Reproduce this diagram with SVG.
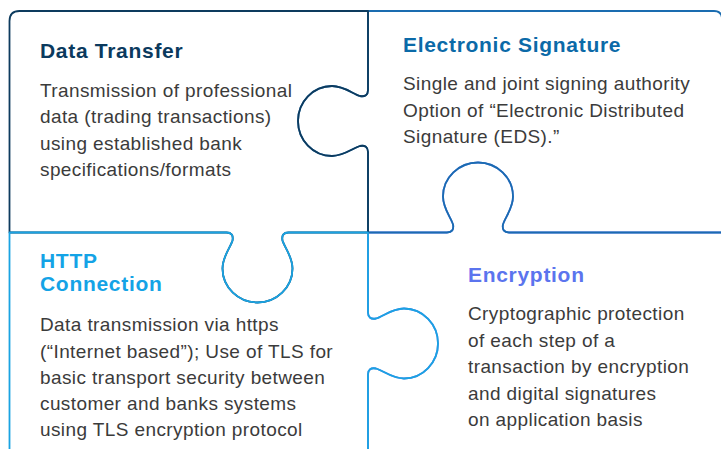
<svg xmlns="http://www.w3.org/2000/svg" width="721" height="449" viewBox="0 0 721 449">
  <style>
    .piece { fill: none; stroke-width: 1.8; stroke-linejoin: round; }
    .title { font-family: "Liberation Sans", Arial, sans-serif; font-weight: bold; font-size: 21px; letter-spacing: 0.7px; }
    .body { font-family: "Liberation Sans", Arial, sans-serif; font-size: 19px; letter-spacing: 0.4px; fill: #3b3b3b; }
  </style>
  <rect width="721" height="449" fill="#ffffff"/>

  <!-- Puzzle pieces are drawn bottom-up so the shared edges take the colour of the piece on top -->
  <g id="encryption">
    <path class="piece" stroke="#5b74ee" d="M 368 232.5 H 447 C 452 232.5, 454 229.5, 453 224.5 C 451 217.5, 443 208.5, 443 196.5 C 443 177.5, 459 162.5, 478 162.5 C 497 162.5, 513 177.5, 513 196.5 C 513 208.5, 505 217.5, 503 224.5 C 502 229.5, 504 232.5, 509 232.5 H 722 V 460 H 368 V 374.5 C 368 369.5, 371 367.5, 376 368.5 C 383 370.5, 392 378.5, 404 378.5 C 423 378.5, 438 362.5, 438 343.5 C 438 324.5, 423 308.5, 404 308.5 C 392 308.5, 383 316.5, 376 318.5 C 371 319.5, 368 317.5, 368 312.5 V 232.5 Z"/>
    <text class="title" x="468" y="282" fill="#5b74ee">Encryption</text>
    <text class="body" x="468">
      <tspan x="468" y="320">Cryptographic protection</tspan>
      <tspan x="468" y="346.5">of each step of a</tspan>
      <tspan x="468" y="373">transaction by encryption</tspan>
      <tspan x="468" y="399.5">and digital signatures</tspan>
      <tspan x="468" y="426">on application basis</tspan>
    </text>
  </g>

  <g id="electronic-signature">
    <path class="piece" stroke="#1a6cb0" d="M 368 11 H 714 Q 722 11 722 19 V 232.5 H 509 C 504 232.5, 502 229.5, 503 224.5 C 505 217.5, 513 208.5, 513 196.5 C 513 177.5, 497 162.5, 478 162.5 C 459 162.5, 443 177.5, 443 196.5 C 443 208.5, 451 217.5, 453 224.5 C 454 229.5, 452 232.5, 447 232.5 H 368 V 152 C 368 147, 365 145, 360 146 C 353 148, 344 156, 332 156 C 313 156, 298 140, 298 121 C 298 102, 313 86, 332 86 C 344 86, 353 94, 360 96 C 365 97, 368 95, 368 90 V 11 Z"/>
    <text class="title" x="403" y="52" fill="#0b6aa8">Electronic Signature</text>
    <text class="body">
      <tspan x="403" y="90">Single and joint signing authority</tspan>
      <tspan x="403" y="116.5">Option of “Electronic Distributed</tspan>
      <tspan x="403" y="143">Signature (EDS).”</tspan>
    </text>
  </g>

  <g id="data-transfer">
    <path class="piece" stroke="#0d3b5e" d="M 19.5 11 H 368 V 90 C 368 95, 365 97, 360 96 C 353 94, 344 86, 332 86 C 313 86, 298 102, 298 121 C 298 140, 313 156, 332 156 C 344 156, 353 148, 360 146 C 365 145, 368 147, 368 152 V 232.5 H 288.5 C 283.5 232.5, 281.5 235.5, 282.5 240.5 C 284.5 247.5, 292.5 256.5, 292.5 268.5 C 292.5 287.5, 276.5 302.5, 257.5 302.5 C 238.5 302.5, 222.5 287.5, 222.5 268.5 C 222.5 256.5, 230.5 247.5, 232.5 240.5 C 233.5 235.5, 231.5 232.5, 226.5 232.5 H 9.5 V 21 Q 9.5 11 19.5 11 Z"/>
    <text class="title" x="40" y="58" fill="#0b3a5e">Data Transfer</text>
    <text class="body">
      <tspan x="40" y="96.5">Transmission of professional</tspan>
      <tspan x="40" y="123">data (trading transactions)</tspan>
      <tspan x="40" y="149.5">using established bank</tspan>
      <tspan x="40" y="176">specifications/formats</tspan>
    </text>
  </g>

  <g id="http-connection">
    <path class="piece" stroke="#1aa3e2" d="M 9.5 232.5 H 226.5 C 231.5 232.5, 233.5 235.5, 232.5 240.5 C 230.5 247.5, 222.5 256.5, 222.5 268.5 C 222.5 287.5, 238.5 302.5, 257.5 302.5 C 276.5 302.5, 292.5 287.5, 292.5 268.5 C 292.5 256.5, 284.5 247.5, 282.5 240.5 C 281.5 235.5, 283.5 232.5, 288.5 232.5 H 368 V 312.5 C 368 317.5, 371 319.5, 376 318.5 C 383 316.5, 392 308.5, 404 308.5 C 423 308.5, 438 324.5, 438 343.5 C 438 362.5, 423 378.5, 404 378.5 C 392 378.5, 383 370.5, 376 368.5 C 371 367.5, 368 369.5, 368 374.5 V 460 H 9.5 Z"/>
    <text class="title" fill="#14a3e6">
      <tspan x="40" y="268">HTTP</tspan>
      <tspan x="40" y="291">Connection</tspan>
    </text>
    <text class="body">
      <tspan x="40" y="331">Data transmission via https</tspan>
      <tspan x="40" y="357.5">(“Internet based”); Use of TLS for</tspan>
      <tspan x="40" y="384">basic transport security between</tspan>
      <tspan x="40" y="410">customer and banks systems</tspan>
      <tspan x="40" y="436">using TLS encryption protocol</tspan>
    </text>
  </g>
</svg>
